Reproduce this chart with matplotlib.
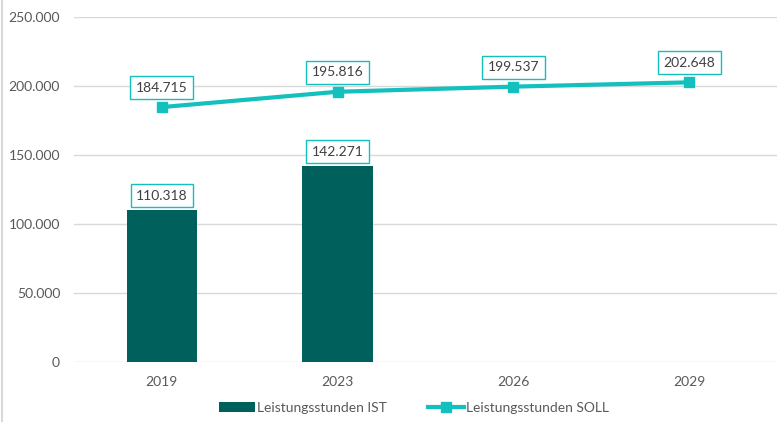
import matplotlib
matplotlib.use("Agg")
import matplotlib.pyplot as plt
import numpy as np

years = ["2019", "2023", "2026", "2029"]
ist_years = ["2019", "2023"]
ist_values = [110318, 142271]
soll_values = [184715, 195816, 199537, 202648]
yticks = [0, 50000, 100000, 150000, 200000, 250000]

BAR = "#00605B"
LINE = "#14C0BE"
TXT = "#595959"


def fmt(v):
    return f"{v:,.0f}".replace(",", ".")


plt.rcParams["font.family"] = ["Lato", "DejaVu Sans"]

fig = plt.figure(figsize=(7.81, 4.22), dpi=100)
ax = fig.add_axes([74 / 781, 60 / 422, 703 / 781, 345 / 422])

x = np.arange(len(years))
xi = [years.index(y) for y in ist_years]
bars = ax.bar(xi, ist_values, width=0.4, color=BAR, label="Leistungsstunden IST", zorder=2)
line, = ax.plot(x, soll_values, "-s", color=LINE, lw=3, ms=7, label="Leistungsstunden SOLL", zorder=3)

box = dict(boxstyle="square,pad=0.4", fc="white", ec=LINE, lw=1)
for xx, v in zip(xi, ist_values):
    ax.annotate(fmt(v), (xx, v), xytext=(0, 10), textcoords="offset points",
                ha="center", va="center", fontsize=10, color="#404040", bbox=box, zorder=4)
for xx, v in zip(x, soll_values):
    ax.annotate(fmt(v), (xx, v), xytext=(0, 14), textcoords="offset points",
                ha="center", va="center", fontsize=10, color="#404040", bbox=box, zorder=4)

ax.set_xlim(-0.5, len(years) - 0.5)
ax.set_ylim(0, 250000)
ax.set_yticks(yticks)
ax.set_yticklabels([fmt(v) for v in yticks])
ax.set_xticks(x)
ax.set_xticklabels(years)
ax.tick_params(length=0, labelsize=10, labelcolor=TXT)
ax.tick_params(axis="x", pad=10)
ax.tick_params(axis="y", pad=10)
ax.grid(axis="y", color="#D9D9D9", lw=1, zorder=0)
for s in ax.spines.values():
    s.set_visible(False)

fig.add_artist(plt.Line2D([2 / 781, 2 / 781], [0, 1], color="#D9D9D9", lw=1.5))

fig.legend([bars, line], ["Leistungsstunden IST", "Leistungsstunden SOLL"],
           loc="lower center", bbox_to_anchor=(0.53, -0.01), ncol=2, frameon=False,
           fontsize=10, labelcolor=TXT, handlelength=2.6, handletextpad=0.1, columnspacing=3)

fig.savefig("out.png", dpi=100)
